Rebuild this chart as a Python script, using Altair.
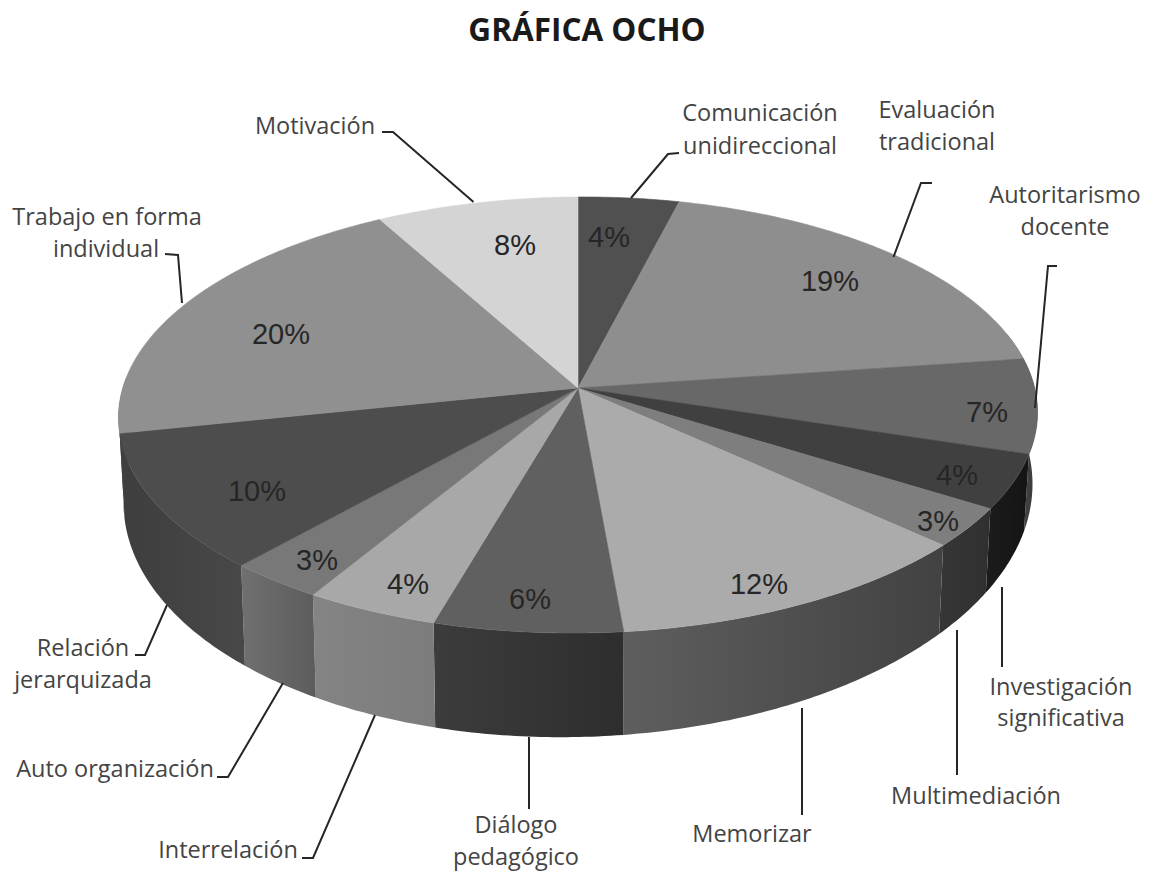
import math
import altair as alt

# Data
categories = ["Comunicación unidireccional", "Evaluación tradicional", "Autoritarismo docente",
              "Investigación significativa", "Multimediación", "Memorizar", "Diálogo pedagógico",
              "Interrelación", "Auto organización", "Relación jerarquizada",
              "Trabajo en forma individual", "Motivación"]
slice_values = [4.0, 19.0, 7.0, 4.0, 2.9, 11.7, 5.9, 4.2, 3.0, 10.2, 20.1, 8.0]
slice_labels = ["4%", "19%", "7%", "4%", "3%", "12%", "6%", "4%", "3%", "10%", "20%", "8%"]

# Styles
top_grays = [0x50, 0x8e, 0x68, 0x40, 0x7e, 0xab, 0x60, 0xa8, 0x78, 0x4d, 0x90, 0xd4]
wall_left = [0x50, 0x44, 0x44, 0x1c, 0x36, 0x5e, 0x3c, 0x84, 0x70, 0x3e, 0x40, 0x90]
wall_right = [0x50, 0x3c, 0x3a, 0x14, 0x30, 0x42, 0x2e, 0x7c, 0x5c, 0x48, 0x40, 0x90]

pct_x = [609, 830, 987, 957, 938, 759, 530, 408, 317, 257, 281, 515]
pct_y = [238, 282, 413, 476, 522, 585, 600, 585, 561, 492, 335, 246]

text_lines = ["Comunicación", "unidireccional", "Evaluación", "tradicional", "Autoritarismo", "docente",
              "Investigación", "significativa", "Multimediación", "Memorizar", "Diálogo", "pedagógico",
              "Interrelación", "Auto organización", "Relación", "jerarquizada", "Trabajo en forma",
              "individual", "Motivación"]
text_x = [760, 760, 937, 937, 1065, 1065, 1061, 1061, 976, 752, 516, 516, 228, 115, 83, 83, 107, 106, 315]
text_y = [114, 147, 111, 143, 196, 228, 688, 719, 797, 835, 826, 858, 851, 770, 649, 681, 218, 250, 127]

leaders = [
    [(382, 132), (393, 132), (473.5, 202)],
    [(679, 153), (668, 154), (631, 198)],
    [(932, 183), (921, 183), (893.5, 257)],
    [(1057, 266), (1048, 266), (1035, 408)],
    [(165, 254), (178, 255), (182, 303)],
    [(1002, 587), (1002, 667)],
    [(957, 630), (957, 775)],
    [(802, 708), (802, 815)],
    [(529, 737), (529, 809)],
    [(167, 605), (145, 655), (135, 655)],
    [(283, 683), (228, 777), (217, 777)],
    [(375, 715), (313, 858), (302, 858)],
]

K = -0.1239


def top_pt(p):
    t = p / 100 * 2 * math.pi
    s, y = math.sin(t), -math.cos(t)
    w = 1 + K * y
    x = 456 * s / w
    return [578 + x, (166.6 * y + 388) / w - 0.006 * x]


def bottom_pt(p):
    t = p / 100 * 2 * math.pi
    s, y = math.sin(t), -math.cos(t)
    w = 1 + K * y
    x = 451 * s / w
    return [578 + x, (182.7 * y + 463) / w - 0.02 * x]


def hexgray(g):
    return "#%02x%02x%02x" % (g, g, g)


def frange(a, b, step):
    n = max(1, int(math.ceil((b - a) / step)))
    return [a + (b - a) * i / n for i in range(n + 1)]


def poly(coords, color=""):
    return {"type": "Feature", "properties": {"color": color},
            "geometry": {"type": "Polygon", "coordinates": [coords + [coords[0]]]}}


def collection(features):
    return alt.InlineData(values={"type": "FeatureCollection", "features": features},
                          format=alt.DataFormat(property="features"))


edges = [0.0]
for v in slice_values:
    edges.append(edges[-1] + v)

layers = []

# side walls: one polygon per slice with a left-to-right gradient
for i in range(len(slice_values)):
    a, b = max(edges[i], 21), min(edges[i + 1], 76)
    if a >= b:
        continue
    ps = frange(a, b, 0.2)
    ring = [top_pt(p) for p in ps] + [bottom_pt(p) for p in reversed(ps)]
    grad = alt.LinearGradient(
        gradient="linear", x1=0, x2=1, y1=0, y2=0,
        stops=[alt.GradientStop(offset=0, color=hexgray(wall_left[i])),
               alt.GradientStop(offset=1, color=hexgray(wall_right[i]))])
    layers.append(alt.Chart(collection([poly(ring)])).mark_geoshape(fill=grad, strokeWidth=0))

# top faces
top_features = []
for i in range(len(slice_values)):
    ps = frange(edges[i], edges[i + 1], 0.2)
    top_features.append(poly([[578, 388]] + [top_pt(p) for p in ps], hexgray(top_grays[i])))
layers.append(alt.Chart(collection(top_features)).mark_geoshape(strokeWidth=0.6).encode(
    fill=alt.Color("properties.color:N", scale=None),
    stroke=alt.Color("properties.color:N", scale=None),
))

line_features = [{"type": "Feature", "properties": {},
                  "geometry": {"type": "LineString", "coordinates": [list(p) for p in l]}} for l in leaders]
layers.append(alt.Chart(collection(line_features)).mark_geoshape(filled=False, stroke="#262626", strokeWidth=2))

layers.append(alt.Chart(alt.Data(values=[{"t": t, "x": x, "y": y} for t, x, y in zip(slice_labels, pct_x, pct_y)])).mark_text(
    font="Liberation Sans", fontSize=29, color="#262626", align="center", baseline="middle"
).encode(longitude="x:Q", latitude="y:Q", text="t:N"))

layers.append(alt.Chart(alt.Data(values=[{"t": t, "x": x, "y": y} for t, x, y in zip(text_lines, text_x, text_y)])).mark_text(
    font="Open Sans", fontSize=23.5, color="#444444", align="center", baseline="middle"
).encode(longitude="x:Q", latitude="y:Q", text="t:N"))

layers.append(alt.Chart(alt.Data(values=[{"t": "GRÁFICA OCHO", "x": 587, "y": 32}])).mark_text(
    font="Open Sans", fontSize=31.5, fontWeight="bold", color="#1a1a1a", align="center", baseline="middle"
).encode(longitude="x:Q", latitude="y:Q", text="t:N"))

proj = alt.Projection(type="identity", scale=1, translate=[-8, -8])

chart = alt.layer(*layers).properties(
    width=1135, height=865, padding=0, background="white", projection=proj
).configure_view(stroke=None)

chart.save("out.html", embed_options={"renderer": "svg", "actions": False})
